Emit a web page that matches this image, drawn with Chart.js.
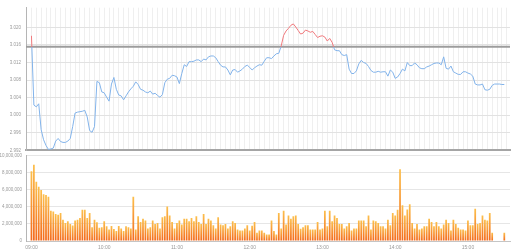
<!DOCTYPE html>
<html><head><meta charset="utf-8">
<script src="https://cdn.jsdelivr.net/npm/chart.js@4/dist/chart.umd.min.js"></script>
<style>
html,body{margin:0;padding:0;background:#fff;width:512px;height:252px;overflow:hidden}
#w1{position:absolute;left:0;top:0;width:512px;height:158px;z-index:2}
#w2{position:absolute;left:0;top:149px;width:512px;height:102px;z-index:1}
canvas{display:block}
</style></head><body>
<div id="w1"><canvas id="c1" width="512" height="158"></canvas></div>
<div id="w2"><canvas id="c2" width="512" height="102"></canvas></div>
<script>
// ---- data ----
const startTime = "09:00";
const intervalMinutes = 2;
const prevClose = 3.0156;
const priceTicks = [2.992, 2.996, 3.000, 3.004, 3.008, 3.012, 3.016, 3.020];
const volumeTicks = [0, 2000000, 4000000, 6000000, 8000000, 10000000];
const hourLabels = ["09:00","10:00","11:00","12:00","13:00","14:00","15:00"];

const price = [3.0181,3.0023,3.0019,3.0026,2.9967,2.9944,2.9931,2.9922,2.9923,2.9925,
2.9941,2.9947,2.9940,2.9938,2.9938,2.9941,2.9947,2.9974,3.0005,3.0007,
3.0008,3.0009,3.0011,2.9996,2.9965,2.9961,2.9974,3.0077,3.0074,3.0053,
3.0051,3.0041,3.0032,3.0071,3.0086,3.0059,3.0046,3.0044,3.0035,3.0044,
3.0053,3.0060,3.0066,3.0076,3.0070,3.0059,3.0057,3.0053,3.0051,3.0055,
3.0048,3.0050,3.0045,3.0041,3.0047,3.0074,3.0082,3.0084,3.0091,3.0090,
3.0087,3.0072,3.0095,3.0115,3.0111,3.0122,3.0122,3.0123,3.0126,3.0126,
3.0122,3.0128,3.0126,3.0133,3.0135,3.0135,3.0131,3.0122,3.0114,3.0110,
3.0110,3.0103,3.0092,3.0103,3.0104,3.0098,3.0101,3.0105,3.0111,3.0114,
3.0109,3.0103,3.0108,3.0112,3.0115,3.0114,3.0123,3.0131,3.0131,3.0129,
3.0135,3.0140,3.0141,3.0158,3.0182,3.0192,3.0198,3.0205,3.0208,3.0201,
3.0193,3.0185,3.0187,3.0194,3.0192,3.0189,3.0191,3.0184,3.0177,3.0180,
3.0181,3.0178,3.0169,3.0175,3.0166,3.0149,3.0147,3.0147,3.0138,3.0136,
3.0138,3.0105,3.0095,3.0095,3.0101,3.0117,3.0125,3.0120,3.0118,3.0111,
3.0102,3.0098,3.0098,3.0100,3.0098,3.0099,3.0099,3.0089,3.0103,3.0098,
3.0084,3.0087,3.0095,3.0105,3.0101,3.0120,3.0113,3.0113,3.0119,3.0115,
3.0108,3.0106,3.0106,3.0110,3.0112,3.0115,3.0118,3.0119,3.0119,3.0115,
3.0133,3.0107,3.0105,3.0112,3.0099,3.0096,3.0093,3.0093,3.0099,3.0099,
3.0096,3.0094,3.0089,3.0071,3.0069,3.0069,3.0071,3.0058,3.0057,3.0059,
3.0068,3.0071,3.0071,3.0071,3.0070,3.0070];

const volume = [8170000,8940000,6940000,6360000,5970000,5470000,5400000,5200000,3550000,3470000,
3160000,3080000,3270000,2500000,2120000,2310000,2000000,1810000,2390000,2500000,
2700000,3660000,3660000,2700000,3270000,1620000,2500000,2200000,1540000,1620000,
2310000,1730000,1350000,1770000,1400000,1160000,1750000,
1460000,1160000,1730000,1620000,1460000,5200000,1350000,2890000,2230000,2620000,
2390000,1460000,1620000,2390000,2000000,2120000,1460000,2770000,2890000,4050000,
3000000,2230000,1460000,2120000,2390000,1930000,2620000,2620000,2310000,2700000,
2310000,2890000,2230000,2000000,3160000,2000000,2620000,2390000,1850000,1460000,
2770000,1930000,1850000,2000000,1460000,1730000,2310000,2120000,1350000,1230000,
1230000,1460000,1850000,1230000,
1800000,
2230000,960000,1230000,1230000,960000,770000,770000,2390000,1160000,770000,
3280000,1460000,3550000,1930000,3000000,2620000,2890000,3000000,2000000,1430000,
1620000,1850000,1850000,1350000,1350000,1350000,2230000,1350000,1460000,3550000,
1730000,3550000,2310000,3000000,2700000,2000000,2000000,1460000,1730000,2120000,
1230000,1460000,1460000,2390000,2390000,2390000,1730000,3000000,1350000,2390000,
2310000,2120000,
1730000,1730000,1460000,2500000,1850000,3280000,3000000,3670000,8400000,4200000,
3000000,3700000,4300000,2120000,1460000,2000000,1350000,1460000,1730000,1730000,
2620000,2230000,1730000,2230000,1730000,1460000,1930000,2500000,2120000,1230000,
2500000,2000000,1540000,1350000,1350000,1230000,2390000,1850000,1850000,3780000,
2000000,2120000,3000000,2500000,2390000,3280000,960000,
null,null,null,null,960000];

// time labels (one per data point)
const toMin = s => { const p = s.split(":"); return (+p[0]) * 60 + (+p[1]); };
const fmt = m => String(Math.floor(m / 60)).padStart(2, "0") + ":" + String(m % 60).padStart(2, "0");
const times = price.map((_, i) => fmt(toMin(startTime) + i * intervalMinutes));

// ---- styling ----
const X_MIN = -4.5, X_MAX = 394.7;   // minutes relative to start
const BLUE = "#82b3ea", RED = "#f0797d";
const FAM = "'Liberation Sans', Arial, sans-serif";
const FONT = {family: FAM, size: 4.5};
const rel = s => toMin(s) - toMin(startTime);
const Y_W = s => { s.width = 26; };

const refLine = {
  id: "refLine",
  beforeDatasetsDraw(chart) {
    const y = chart.scales.y.getPixelForValue(prevClose);
    const a = chart.chartArea, c = chart.ctx;
    c.save();
    c.strokeStyle = "#9c9c9c";
    c.lineWidth = 2;
    c.beginPath(); c.moveTo(a.left, y); c.lineTo(a.right, y); c.stroke();
    c.restore();
  }
};

const lineColor = ctx => {
  const ch = ctx.chart, a = ch.chartArea;
  if (!a) return BLUE;
  const y = ch.scales.y.getPixelForValue(prevClose);
  let f = (y - a.top) / (a.bottom - a.top);
  f = Math.min(Math.max(f, 0), 1);
  const g = ch.ctx.createLinearGradient(0, a.top, 0, a.bottom);
  g.addColorStop(0, RED); g.addColorStop(f, RED);
  g.addColorStop(f, BLUE); g.addColorStop(1, BLUE);
  return g;
};

const barColor = ctx => {
  const ch = ctx.chart, a = ch.chartArea;
  if (!a || !ctx.parsed || ctx.parsed.y == null) return "#f7941d";
  const yT = ch.scales.y.getPixelForValue(ctx.parsed.y);
  const yB = ch.scales.y.getPixelForValue(0);
  const g = ch.ctx.createLinearGradient(0, yT, 0, yB + 0.01);
  g.addColorStop(0, "#fcbf4c");
  g.addColorStop(1, "#f3691c");
  return g;
};

new Chart(document.getElementById("c1"), {
  type: "line",
  data: { datasets: [{
    data: price.map((v, i) => ({x: rel(times[i]), y: v})),
    borderColor: lineColor, borderWidth: 1, pointRadius: 0, tension: 0, fill: false
  }]},
  options: {
    responsive: false, animation: false, devicePixelRatio: 1,
    layout: {autoPadding: false, padding: {top: 2, right: 2, bottom: 3, left: 0}},
    plugins: {legend: {display: false}, tooltip: {enabled: false}},
    scales: {
      x: {type: "linear", min: X_MIN, max: X_MAX, afterFit: s => { s.height = 0; },
          grid: {color: "#efefef", drawTicks: false},
          border: {color: "#a5a5a5", width: 2},
          ticks: {display: false, stepSize: 4, includeBounds: false, maxTicksLimit: 1000, autoSkip: false}},
      y: {min: 2.992, max: 3.0245, afterFit: Y_W,
          grid: {color: "#e2e2e2", drawTicks: false},
          border: {color: "#b5b5b5"},
          afterBuildTicks: s => { s.ticks = priceTicks.map(v => ({value: v})); },
          ticks: {padding: 5, color: "#9a9a9a", font: FONT, callback: v => v.toFixed(3)}}
    }
  },
  plugins: [refLine]
});

new Chart(document.getElementById("c2"), {
  type: "bar",
  data: { datasets: [{
    data: volume.map((v, i) => ({x: rel(times[i]), y: v})),
    backgroundColor: barColor, borderWidth: 0, barPercentage: 0.8, categoryPercentage: 0.9
  }]},
  options: {
    responsive: false, animation: false, devicePixelRatio: 1,
    layout: {autoPadding: false, padding: {top: 0, right: 2, bottom: 0, left: 0}},
    plugins: {legend: {display: false}, tooltip: {enabled: false}},
    scales: {
      x: {type: "linear", min: X_MIN, max: X_MAX, offset: false, afterFit: s => { s.height = 10; },
          grid: {display: false, offset: false, drawTicks: false},
          border: {color: "#c5c5c5"},
          afterBuildTicks: s => { s.ticks = hourLabels.map(h => ({value: rel(h)})); },
          ticks: {padding: 4, color: "#9a9a9a", font: {family: FAM, size: 5}, maxRotation: 0, autoSkip: false,
                  callback: v => fmt(v + toMin(startTime))}},
      y: {min: 0, max: 10000000, afterFit: Y_W,
          grid: {color: "#e6e6e6", drawTicks: false},
          border: {color: "#b5b5b5"},
          afterBuildTicks: s => { s.ticks = volumeTicks.map(v => ({value: v})); },
          ticks: {padding: 4, color: "#9a9a9a", font: FONT, callback: v => v.toLocaleString("en-US")}}
    }
  }
});
</script>
</body></html>
